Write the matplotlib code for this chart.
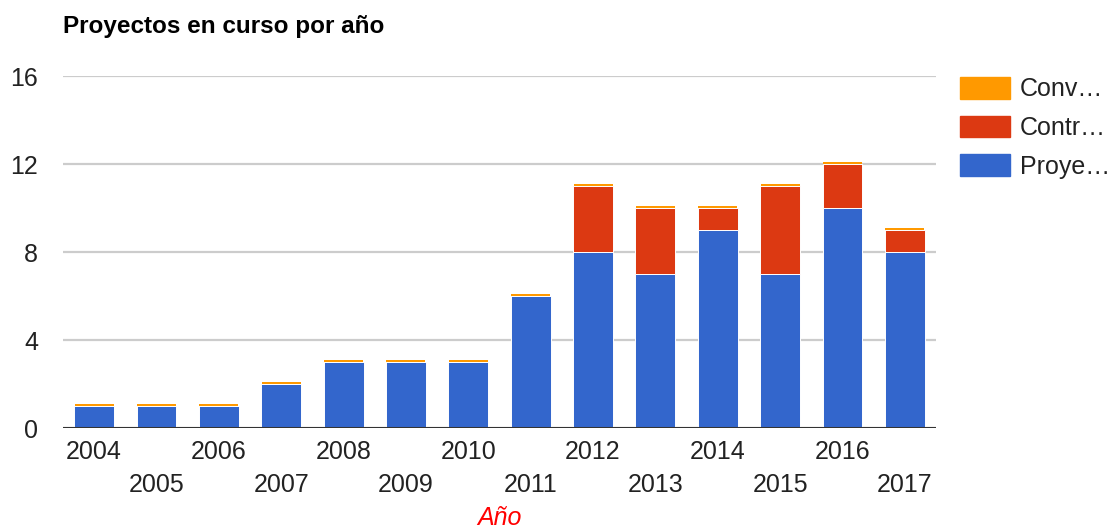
import matplotlib
matplotlib.use('Agg')
import matplotlib.pyplot as plt
import matplotlib.patches as mpatches
import numpy as np

plt.rcParams['font.family'] = ['Liberation Sans', 'DejaVu Sans']

# data
years = ['2004', '2005', '2006', '2007', '2008', '2009', '2010',
         '2011', '2012', '2013', '2014', '2015', '2016', '2017']
proyectos = [1, 1, 1, 2, 3, 3, 3, 6, 8, 7, 9, 7, 10, 8]
contratos = [0, 0, 0, 0, 0, 0, 0, 0, 3, 3, 1, 4, 2, 1]
convenios = [0.12, 0.12, 0.12, 0.12, 0.12, 0.12, 0.12, 0.12, 0.12, 0.12, 0.12, 0.12, 0.12, 0.12]
series_names = ['Proye\u2026', 'Contr\u2026', 'Conv\u2026']
colors = ['#3366cc', '#dc3912', '#ff9900']
yticks = [0, 4, 8, 12, 16]

fig = plt.figure(figsize=(11.11, 5.29), dpi=100)
ax = fig.add_axes([63 / 1111, 1 - 428.3 / 529, (936 - 63) / 1111, (428.3 - 76.3) / 529])

x = np.arange(len(years))
bottom = np.zeros(len(years))
handles = []
for vals, name, col in zip([proyectos, contratos, convenios], series_names, colors):
    vals = np.array(vals, dtype=float)
    if col == '#ff9900':
        ax.bar(x, vals, width=0.625, bottom=bottom, color=col, linewidth=0, zorder=3)
    else:
        # white edge gives the thin gap between stacked segments
        ax.bar(x, vals, width=0.64, bottom=bottom, color=col, edgecolor='white',
               linewidth=0.7, zorder=4)
    bottom += vals
    handles.append(mpatches.Patch(color=col, label=name))

ax.set_xlim(-0.5, 13.5)
ax.set_ylim(0, 16)
ax.set_yticks(yticks)
ax.set_yticklabels([str(t) for t in yticks])
ax.grid(axis='y', color='#cccccc', linewidth=1.6, zorder=0)
ax.set_axisbelow(True)
ax.axhline(0, color='#333333', linewidth=2.2, zorder=5)
for s in ax.spines.values():
    s.set_visible(False)

ax.set_xticks(x)
ax.set_xticklabels(years)
ax.tick_params(axis='both', length=0, labelsize=18, labelcolor='#222222')
ax.tick_params(axis='y', pad=18)
for i, tick in enumerate(ax.xaxis.get_major_ticks()):
    tick.set_pad(8.5 if i % 2 == 0 else 32)

fig.text(63 / 1111, 1 - 33 / 529, 'Proyectos en curso por a\u00f1o', fontsize=17.5,
         fontweight='bold', color='#000000', va='baseline', ha='left')
fig.text((63 + 936) / 2 / 1111, 1 - 525 / 529, 'A\u00f1o', fontsize=18,
         fontstyle='italic', color='#ff0000', va='baseline', ha='center')

leg = fig.legend(handles=handles[::-1], loc='upper left',
                 bbox_to_anchor=(960 / 1111, 1 - 77 / 529), frameon=False,
                 fontsize=18, handlelength=2.0, handleheight=0.96,
                 handletextpad=0.4, labelspacing=0.57, borderpad=0,
                 borderaxespad=0)
for t in leg.get_texts():
    t.set_color('#222222')

fig.savefig('out.png', dpi=100)
